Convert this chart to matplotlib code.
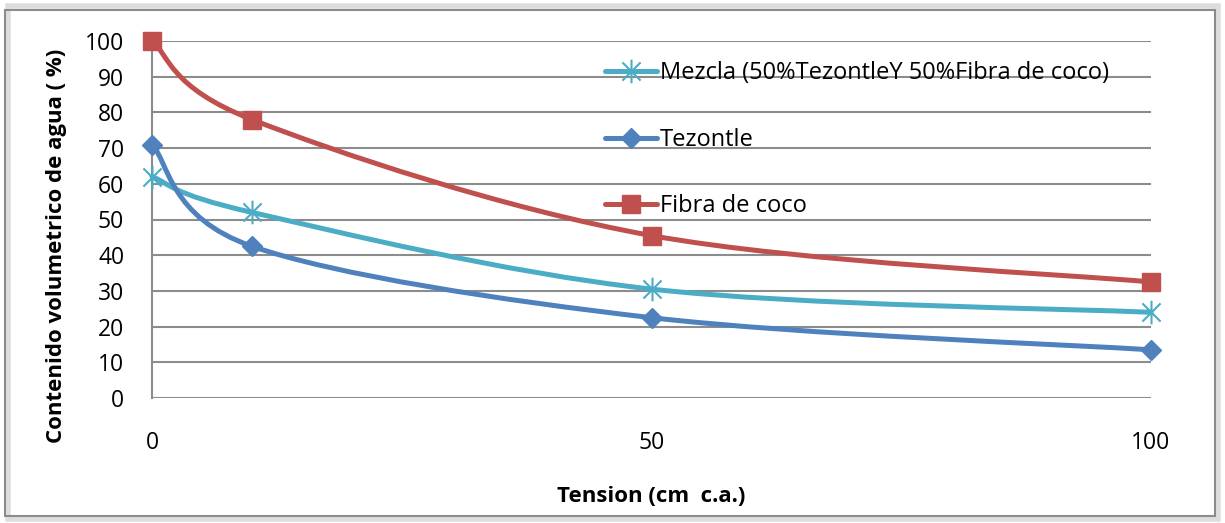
import numpy as np
import matplotlib.pyplot as plt
from matplotlib.path import Path
from matplotlib.patches import PathPatch, Rectangle
from matplotlib.lines import Line2D

plt.rcParams['font.family'] = ['Open Sans', 'DejaVu Sans']

# Datos
tension = [0, 10, 50, 100]
tezontle = [71, 42.5, 22.5, 13.5]
fibra = [100, 78, 45.5, 32.5]
mezcla = [62, 52, 30.5, 24]
yticks = [0, 10, 20, 30, 40, 50, 60, 70, 80, 90, 100]
xticks = [0, 50, 100]

c_mez = '#4BACC6'
c_tez = '#4F81BD'
c_fib = '#C0504D'

# marcador asterisco tipo Excel (x + linea vertical)
asterisco = Path([(-1, -1), (1, 1), (-1, 1), (1, -1), (0, -1.3), (0, 1.3)],
                 [Path.MOVETO, Path.LINETO, Path.MOVETO, Path.LINETO, Path.MOVETO, Path.LINETO])


def curva_suave(x, y):
    # bezier tipo Excel (Catmull-Rom con factor 1/6)
    pts = np.column_stack([x, y]).astype(float)
    n = len(pts)
    verts = [pts[0]]
    codes = [Path.MOVETO]
    for i in range(n - 1):
        p0 = pts[max(i - 1, 0)]
        p1 = pts[i]
        p2 = pts[i + 1]
        p3 = pts[min(i + 2, n - 1)]
        c1 = p1 + (p2 - p0) / 6
        c2 = p2 - (p3 - p1) / 6
        verts += [c1, c2, p2]
        codes += [Path.CURVE4] * 3
    return Path(verts, codes)


fig = plt.figure(figsize=(12.25, 5.23), dpi=100)
ax = fig.add_axes([152 / 1225, 125 / 523, 999 / 1225, 357 / 523])

# marco del grafico
fig.patches.append(Rectangle((8 / 1225, 4 / 523), 1210 / 1225, 513 / 523, transform=fig.transFigure,
                             fill=False, edgecolor='#DDDDDD', lw=4, zorder=0))
fig.patches.append(Rectangle((5 / 1225, 7 / 523), 1210 / 1225, 506 / 523, transform=fig.transFigure,
                             fill=False, edgecolor='#8C8C8C', lw=1.5, zorder=1))

lw = 3.6
ms_ast = 17
for y, col, mk, ms in [(mezcla, c_mez, asterisco, ms_ast),
                       (tezontle, c_tez, 'D', 10),
                       (fibra, c_fib, 's', 13)]:
    ax.add_patch(PathPatch(curva_suave(tension, y), fill=False, edgecolor=col, lw=lw,
                           capstyle='round', joinstyle='round', zorder=3, clip_on=False))
    if mk is asterisco:
        ax.plot(tension, y, ls='none', marker=mk, ms=ms, mec=col, mfc='none', mew=1.5,
                zorder=4, clip_on=False)
    else:
        ax.plot(tension, y, ls='none', marker=mk, ms=ms, color=col, zorder=4, clip_on=False)

ax.set_xlim(0, 100)
ax.set_ylim(0, 100)
ax.set_yticks(yticks)
ax.set_xticks(xticks)
ax.tick_params(length=0, labelsize=16.5)
ax.tick_params(axis='y', pad=20)
ax.tick_params(axis='x', pad=24)
ax.grid(axis='y', color='#8C8C8C', lw=1.5)
ax.set_axisbelow(True)
for s in ['top', 'right', 'bottom']:
    ax.spines[s].set_visible(False)
ax.spines['left'].set_color('#8C8C8C')
ax.spines['left'].set_linewidth(1.5)

ax.set_xlabel('Tension (cm  c.a.)', fontsize=16, fontweight='bold', labelpad=22)
ax.set_ylabel('Contenido volumetrico de agua ( %)', fontsize=16, fontweight='bold')
ax.yaxis.set_label_coords(-0.085, 0.426)

handles = [Line2D([], [], color=c_mez, lw=lw, marker=asterisco, ms=ms_ast, mec=c_mez, mew=1.5,
                  solid_capstyle='round'),
           Line2D([], [], color=c_tez, lw=lw, marker='D', ms=10, solid_capstyle='round'),
           Line2D([], [], color=c_fib, lw=lw, marker='s', ms=13, solid_capstyle='round')]
labels = ['Mezcla (50%TezontleY 50%Fibra de coco)', 'Tezontle', 'Fibra de coco']
ax.legend(handles, labels, loc='upper left', bbox_to_anchor=(444 / 999, 1 - 11 / 357), frameon=False,
          fontsize=17, handlelength=2.2, handletextpad=0.1, labelspacing=1.8, borderaxespad=0,
          numpoints=1)

fig.savefig('out.png', dpi=100)
